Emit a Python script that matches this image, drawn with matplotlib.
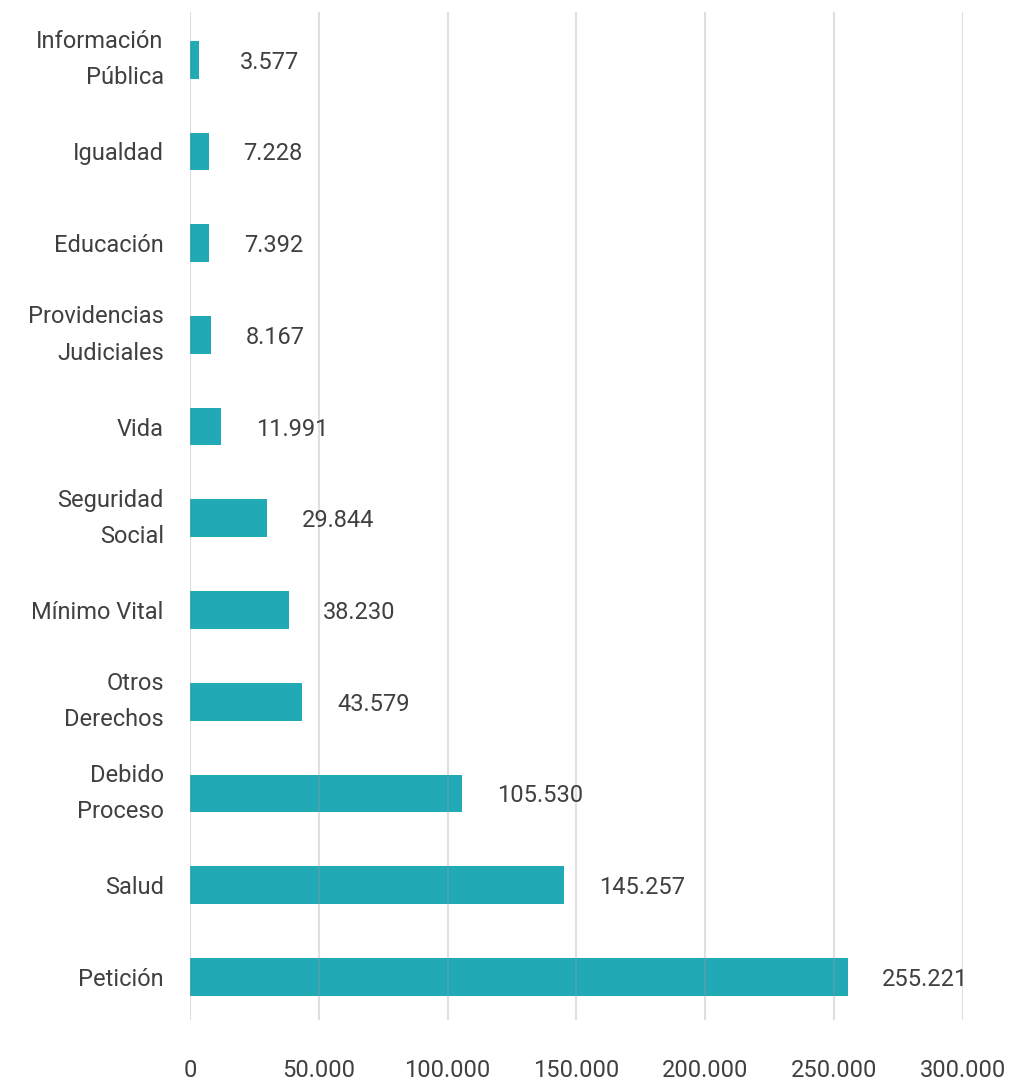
import matplotlib.pyplot as plt
import numpy as np

plt.rcParams['font.family'] = ['Roboto', 'DejaVu Sans']

derechos = ['Petición', 'Salud', 'Debido\nProceso', 'Otros\nDerechos', 'Mínimo Vital',
            'Seguridad\nSocial', 'Vida', 'Providencias\nJudiciales', 'Educación',
            'Igualdad', 'Información\nPública']
tutelas = [255221, 145257, 105530, 43579, 38230, 29844, 11991, 8167, 7392, 7228, 3577]

x_ticks = np.arange(0, 300001, 50000)


def miles(v):
    # separador de miles con punto
    return f"{int(v):,}".replace(",", ".")


fig = plt.figure(figsize=(10.13, 10.83), dpi=100)
ax = fig.add_axes([0.1876, 0.0582, 0.763, 0.9307])

y = np.arange(len(derechos))
ax.barh(y, tutelas, height=0.41, color='#21a9b6', zorder=2)

for yi, v in zip(y, tutelas):
    # las barras pequeñas llevan la etiqueta en una posición mínima
    x_lab = max(v, 6000)
    ax.annotate(miles(v), (x_lab, yi), xytext=(25, 0), textcoords='offset points',
                ha='left', va='center_baseline', fontsize=17, color='#404040')

ax.set_xlim(0, 300000)
ax.set_ylim(-0.47, len(derechos) - 0.48)
ax.set_xticks(x_ticks)
ax.set_xticklabels([miles(t) for t in x_ticks])
ax.set_yticks(y)
ax.set_yticklabels(derechos, linespacing=1.75)
for lab in ax.get_yticklabels():
    if '\n' in lab.get_text():
        lab.set_va('center')

ax.tick_params(axis='both', length=0, labelsize=17, labelcolor='#404040')
ax.tick_params(axis='y', pad=19)
ax.tick_params(axis='x', pad=28)

ax.grid(axis='x', color='#9a9a9a', alpha=0.3, linewidth=1.5, zorder=3)
ax.set_axisbelow(False)
for s in ax.spines.values():
    s.set_visible(False)

plt.savefig('out.png', dpi=100)
